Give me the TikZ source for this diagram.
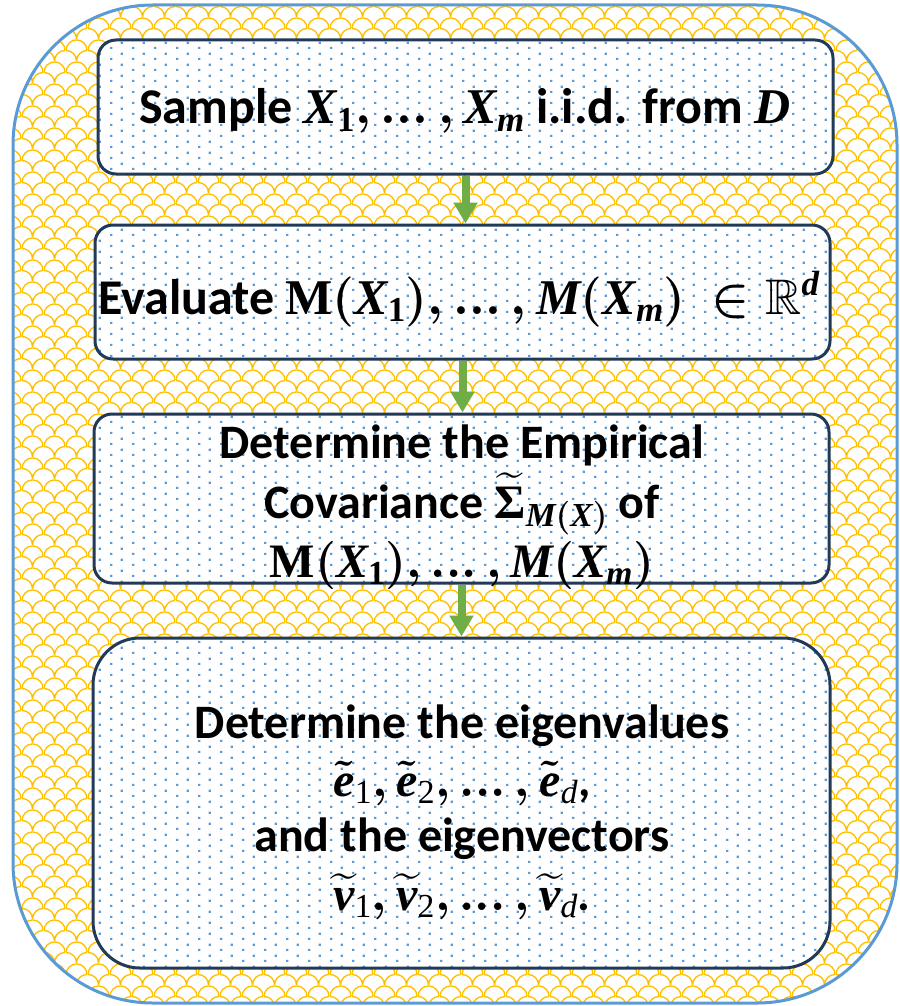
\RequirePackage{fix-cm}
\documentclass[tikz,border=0pt]{standalone}
\usepackage{amsmath,amssymb}
\usepackage{fontspec}
\setmainfont{Carlito}
\newfontfamily\mf{Liberation Serif}
\usetikzlibrary{arrows.meta,patterns}

\newcommand\mi[1]{\text{\mf\bfseries\itshape #1}}
\newcommand\mup[1]{\text{\mf\bfseries #1}}
\newcommand\mn[1]{\text{\mf\mdseries\upshape #1}}
\newcommand\mni[1]{\text{\mf\mdseries\itshape #1}}
\newcommand\eld{\mathinner{\ldotp\mkern-3mu\ldotp\mkern-3mu\ldotp}}

\definecolor{yel}{HTML}{FFC000}
\definecolor{oblue}{HTML}{5B9BD5}
\definecolor{navy}{HTML}{203A58}
\definecolor{dotb}{HTML}{5B9BD5}
\definecolor{grn}{HTML}{70AD47}

\pgfdeclarepatternformonly{bdots}{\pgfqpoint{0pt}{0pt}}{\pgfqpoint{22pt}{11pt}}{\pgfqpoint{22pt}{11pt}}{%
  \pgfpathrectangle{\pgfqpoint{0pt}{0pt}}{\pgfqpoint{2.4pt}{2.4pt}}%
  \pgfpathrectangle{\pgfqpoint{11pt}{5.5pt}}{\pgfqpoint{2.4pt}{2.4pt}}%
  \pgfusepath{fill}}

\pgfdeclarepatternformonly{yscales}{\pgfqpoint{0pt}{0pt}}{\pgfqpoint{22pt}{22pt}}{\pgfqpoint{22pt}{22pt}}{%
  \pgfsetlinewidth{1.4pt}%
  \pgfpathmoveto{\pgfqpoint{0pt}{11pt}}\pgfpatharc{180}{0}{11pt}%
  \pgfpathmoveto{\pgfqpoint{0pt}{11pt}}\pgfpatharc{90}{0}{11pt}%
  \pgfpathmoveto{\pgfqpoint{11pt}{0pt}}\pgfpatharc{180}{90}{11pt}%
  \pgfusepath{stroke}}

\tikzset{
  outerbox/.style={draw=oblue,line width=3pt,preaction={fill=white},pattern=yscales,pattern color=yel,rounded corners=140pt},
  box/.style={draw=navy,line width=3pt,rounded corners=18pt,preaction={fill=white},pattern=bdots,pattern color=dotb,inner sep=0pt},
  bigbox/.style={box,rounded corners=47pt},
  flow/.style={draw=grn,line width=8pt,-{Triangle[length=21pt,width=23pt]}},
  txt/.style={font=\fontsize{48}{56}\selectfont\bfseries\boldmath,inner sep=0pt,anchor=base},
  txtb/.style={txt,font=\fontsize{50}{58}\selectfont\bfseries\boldmath}
}

\begin{document}
\begin{tikzpicture}[x=1pt,y=-1pt]
\useasboundingbox (0,0) rectangle (899,1006);
\path[outerbox] (13,5) rectangle (897,1003);

\node[box,minimum width=735pt,minimum height=134pt] (b1) at (465.5,107) {};
\node[box,minimum width=735pt,minimum height=134pt] (b2) at (462.5,292) {};
\node[box,minimum width=735pt,minimum height=169pt] (b3) at (461.5,498.5) {};
\node[bigbox,minimum width=737pt,minimum height=330pt] (b4) at (461.5,803) {};

\draw[flow] (b1.south) -- (b1.south |- b2.north);
\draw[flow] (b2.south) -- (b2.south |- b3.north);
\draw[flow] (b3.south) -- (b3.south |- b4.north);

\node[txtb] (t1) at (465,124) {Sample $\mi{X}_{\mup{1}},\eld,\mi{X}_{\mi{m}}$ i.i.d. from $\mi{D}$};
\node[txtb] (t2) at (459,314) {Evaluate $\mup{M}(\mi{X}_{\mup{1}}),\eld,\mi{M}(\mi{X}_{\mi{m}})\,\in\mathbb{R}^{\mi{d}}$};
\node[txt] (t3a) at (462,458) {Determine the Empirical};
\node[txt] (t3b) at (462,518) {Covariance $\widetilde{\mup{Σ}}_{\mi{M}(\mi{X})}$ of};
\node[txt] (t3c) at (462,577) {$\mup{M}(\mi{X}_{\mup{1}}),\eld,\mi{M}(\mi{X}_{\mi{m}})$};
\node[txt] (t4a) at (462,738) {Determine the eigenvalues};
\node[txt] (t4b) at (462,796) {$\tilde{\mi{e}}_{\mn{1}},\tilde{\mi{e}}_{\mn{2}},\eld,\tilde{\mi{e}}_{\mni{d}}$,};
\node[txt] (t4c) at (462,851) {and the eigenvectors};
\node[txt] (t4d) at (462,910) {$\widetilde{\mi{v}}_{\mn{1}},\widetilde{\mi{v}}_{\mn{2}},\eld,\widetilde{\mi{v}}_{\mni{d}}$.};
\end{tikzpicture}
\end{document}
